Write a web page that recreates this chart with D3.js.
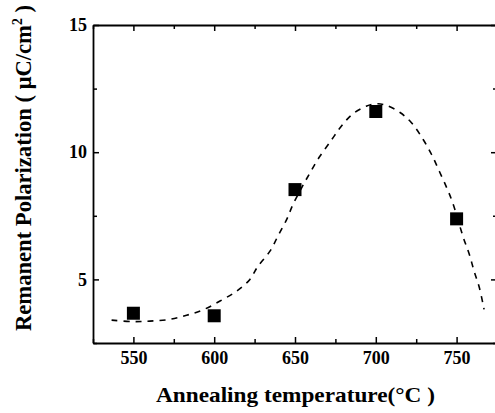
<!DOCTYPE html>
<html>
<head>
<meta charset="utf-8">
<script src="https://cdn.jsdelivr.net/npm/d3@7/dist/d3.min.js"></script>
<style>
  body { margin: 0; background: #fff; }
  svg text { font-family: "Liberation Serif", "Times New Roman", serif; font-weight: bold; fill: #000; }
</style>
</head>
<body>
<div id="chart"></div>
<script>
// measured points
var temps = [550, 600, 650, 700, 750];
var polarization = [3.67, 3.57, 8.53, 11.6, 7.38];

// dashed fit curve
var fitTemps = [536.5, 549.7, 560.2, 572.6, 582.9, 593.0, 603.6, 613.9, 622.1, 627.0,
    634.5, 639.4, 644.8, 648.7, 654.1, 659.2, 665.4, 672.7, 677.8, 685.1,
    694.4, 700.0, 705.7, 715.0, 722.2, 729.4, 734.6, 739.3, 743.9, 747.6,
    754.2, 757.9, 760.8, 764.1, 767.0];
var fitValues = [3.40, 3.34, 3.36, 3.43, 3.59, 3.80, 4.15, 4.54, 5.00, 5.51,
    6.11, 6.70, 7.35, 7.94, 8.60, 9.18, 9.84, 10.49, 10.95, 11.47,
    11.82, 11.90, 11.86, 11.56, 11.15, 10.49, 9.90, 9.25, 8.60, 8.01,
    6.64, 5.98, 5.33, 4.67, 3.82];

var xTicks = [550, 600, 650, 700, 750];
var xMinorTicks = [525, 575, 625, 675, 725, 775];
var yTicks = [5, 10, 15];
var yMinorTicks = [2.5, 7.5, 12.5];

var svgWidth = 495, svgHeight = 413;
var margin = {top: 25, left: 93};
var width = 404, height = 318;

var svg = d3.select("#chart").append("svg")
    .attr("width", svgWidth).attr("height", svgHeight);

var g = svg.append("g")
    .attr("transform", "translate(" + margin.left + " " + margin.top + ")");

var x = d3.scaleLinear().domain([525, 775]).range([0, width]);
var y = d3.scaleLinear().domain([2.5, 15]).range([height, 0]);

function styleAxis(sel) {
    sel.select(".domain").attr("stroke", "#000").attr("stroke-width", 1.8);
    sel.selectAll(".tick line").attr("stroke", "#000").attr("stroke-width", 1.5);
    sel.selectAll("text").attr("font-size", "18px");
}

// bottom axis
var xAxis = g.append("g").attr("transform", "translate(0 " + height + ")")
    .call(d3.axisBottom(x).tickValues(xTicks).tickSizeInner(-6).tickSizeOuter(0).tickPadding(8).tickFormat(d3.format("d")));
styleAxis(xAxis);
g.append("g").attr("transform", "translate(0 " + height + ")")
    .call(d3.axisBottom(x).tickValues(xMinorTicks).tickSizeInner(-4).tickSizeOuter(0).tickFormat(""))
    .call(styleAxis).select(".domain").remove();

// top axis
g.append("g")
    .call(d3.axisTop(x).tickValues(xTicks).tickSizeInner(-6).tickSizeOuter(0).tickFormat(""))
    .call(styleAxis);
g.append("g")
    .call(d3.axisTop(x).tickValues(xMinorTicks).tickSizeInner(-4).tickSizeOuter(0).tickFormat(""))
    .call(styleAxis).select(".domain").remove();

// left axis
var yAxis = g.append("g")
    .call(d3.axisLeft(y).tickValues(yTicks).tickSizeInner(-6).tickSizeOuter(0).tickPadding(6).tickFormat(d3.format("d")));
styleAxis(yAxis);
g.append("g")
    .call(d3.axisLeft(y).tickValues(yMinorTicks).tickSizeInner(-4).tickSizeOuter(0).tickFormat(""))
    .call(styleAxis).select(".domain").remove();

// right axis
g.append("g").attr("transform", "translate(" + width + " 0)")
    .call(d3.axisRight(y).tickValues(yTicks).tickSizeInner(-6).tickSizeOuter(0).tickFormat(""))
    .call(styleAxis);
g.append("g").attr("transform", "translate(" + width + " 0)")
    .call(d3.axisRight(y).tickValues(yMinorTicks).tickSizeInner(-4).tickSizeOuter(0).tickFormat(""))
    .call(styleAxis).select(".domain").remove();

// fit curve
var fit = fitTemps.map(function(t, i) { return [t, fitValues[i]]; });
var line = d3.line()
    .x(function(d) { return x(d[0]); })
    .y(function(d) { return y(d[1]); })
    .curve(d3.curveCatmullRom);

g.append("path")
    .datum(fit)
    .attr("fill", "none")
    .attr("stroke", "#000")
    .attr("stroke-width", 1.6)
    .attr("stroke-dasharray", "6,6")
    .attr("d", line);

// squares
var size = 13;
g.selectAll(".pt")
    .data(temps).enter().append("rect")
        .attr("class", "pt")
        .attr("x", function(d) { return x(d) - size / 2; })
        .attr("y", function(d, i) { return y(polarization[i]) - size / 2; })
        .attr("width", size).attr("height", size)
        .attr("fill", "#000");

// axis titles
svg.append("text")
    .attr("x", 156).attr("y", 402)
    .attr("font-size", "21px")
    .attr("textLength", 279).attr("lengthAdjust", "spacingAndGlyphs")
    .text("Annealing temperature(°C )");

var yTitle = svg.append("text")
    .attr("transform", "translate(31 168) rotate(-90)")
    .attr("text-anchor", "middle")
    .attr("font-size", "23px")
    .attr("textLength", 326).attr("lengthAdjust", "spacingAndGlyphs");
yTitle.append("tspan").text("Remanent Polarization ( μC/cm");
yTitle.append("tspan").attr("dy", "-9").attr("font-size", "14px").text("2");
yTitle.append("tspan").attr("dy", "9").text(" )");
</script>
</body>
</html>
